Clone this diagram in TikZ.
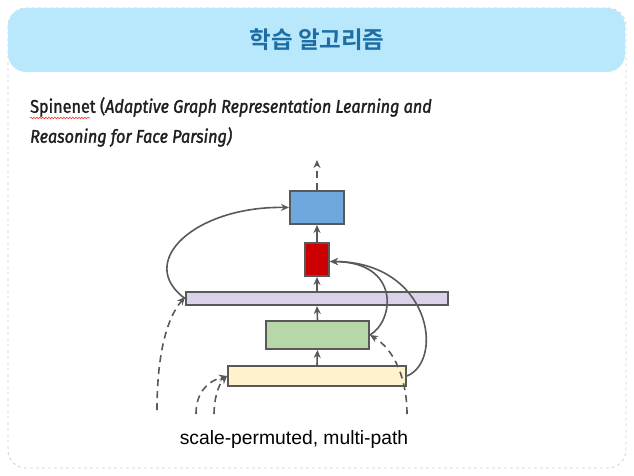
\documentclass[tikz,border=0pt]{standalone}
\usepackage{fontspec}
\setmainfont{Liberation Sans}
\newfontfamily\krfont{Noto Sans CJK KR}[BoldFont={* Bold}]
\newfontfamily\hdfont[FakeStretch=0.885, FakeBold=1.6]{Fira Sans}
\usetikzlibrary{arrows.meta,decorations.pathmorphing}
\definecolor{edgegray}{HTML}{595959}
\definecolor{hdrblue}{HTML}{B9E8FD}
\definecolor{titleblue}{HTML}{1C6EA4}
\definecolor{boxblue}{HTML}{6FA8DC}
\definecolor{boxred}{HTML}{CC0000}
\definecolor{boxpurple}{HTML}{D9D2E9}
\definecolor{boxgreen}{HTML}{B6D7A8}
\definecolor{boxyellow}{HTML}{FFF2CC}
\definecolor{framegray}{HTML}{D0D0D0}
\tikzset{
  blk/.style={draw=edgegray, line width=2pt, inner sep=0pt},
  conn/.style={draw=edgegray, line width=1.6pt, -{Stealth[length=8pt,width=7pt]}},
  dconn/.style={conn, dash pattern=on 7pt off 5pt},
}
\begin{document}
\begin{tikzpicture}[x=1pt,y=-1pt]
\useasboundingbox (0,0) rectangle (634,476);
% frame
\draw[framegray, dashed, rounded corners=18pt, line width=0.8pt] (8,8) rectangle (626,468);
\fill[hdrblue, rounded corners=18pt] (8,8) rectangle (625,72);
\node[text=titleblue, font=\krfont\bfseries\fontsize{23.5}{28}\selectfont] (title) at (317,40) {학습 알고리즘};
% heading
\node[anchor=west, inner sep=0pt, text=black!88, font=\hdfont\fontsize{18.3}{21}\selectfont] (h1) at (30,107)
  {Spinenet (\textit{Adaptive Graph Representation Learning and}};
\node[anchor=west, inner sep=0pt, text=black!88, font=\hdfont\itshape\fontsize{18.3}{21}\selectfont] (h2) at (30,137)
  {Reasoning for Face Parsing)};
\coordinate (wl) at (30,118);
\coordinate (wr) at (90,118);
\draw[red!80, line width=0.6pt, decorate, decoration={snake, amplitude=0.8pt, segment length=3pt}] (wl) -- (wr);
% blocks
\node[blk, fill=boxblue, minimum width=54pt, minimum height=33pt] (blue) at (317,207.5) {};
\node[blk, fill=boxred, minimum width=24pt, minimum height=33pt] (red) at (317,259.5) {};
\node[blk, fill=boxpurple, minimum width=262pt, minimum height=13pt] (purple) at (317,298.5) {};
\node[blk, fill=boxgreen, minimum width=103pt, minimum height=28pt] (green) at (317.5,335) {};
\node[blk, fill=boxyellow, minimum width=178pt, minimum height=20pt] (yellow) at (317,376) {};
% free ends
\coordinate (top) at (317,160);
\coordinate (d1) at (157,410);
\coordinate (d2) at (196,414);
\coordinate (d3) at (214,414);
\coordinate (d4) at (407,414);
% straight arrows
\draw[dconn] (blue.north) -- (top);
\draw[conn] (red.north) -- (blue.south);
\draw[conn] (purple.north) -- (red.south);
\draw[conn] (green.north) -- (purple.south);
\draw[conn] (yellow.north) -- (green.south);
% curves
\draw[conn] (purple.west) .. controls (135,262) and (195,206) .. (blue.west);
\draw[conn] (green.east) .. controls (395,320) and (400,262) .. ([yshift=-2pt]red.east);
\draw[conn] (yellow.east) .. controls (445,360) and (430,262) .. ([yshift=-2pt]red.east);
\draw[dconn] (d1) .. controls (157,360) and (165,320) .. ([yshift=1.5pt]purple.west);
\draw[dconn] (d2) .. controls (196,395) and (205,382) .. (yellow.west);
\draw[dconn] (d3) .. controls (214,400) and (218,385) .. (yellow.west);
\draw[dconn] (d4) .. controls (407,380) and (395,350) .. (green.east);
% caption
\node[font=\fontsize{19.3}{22}\selectfont] (cap) at (294,440) {scale-permuted, multi-path};
\end{tikzpicture}
\end{document}
